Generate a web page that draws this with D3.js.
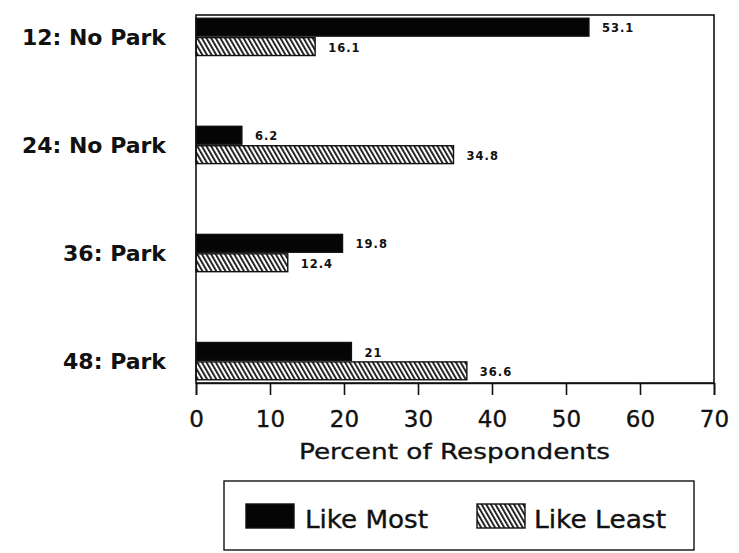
<!DOCTYPE html>
<html>
<head>
<meta charset="utf-8">
<script src="https://cdn.jsdelivr.net/npm/d3@7"></script>
<style>
  html, body { margin: 0; padding: 0; background: #fff; }
  svg { display: block; font-family: "DejaVu Sans", "Liberation Sans", Arial, sans-serif; }
</style>
</head>
<body>
<svg id="chart" width="739" height="553"></svg>
<script>
// Survey responses by site group
const categories = ["12: No Park", "24: No Park", "36: Park", "48: Park"];
const series = ["Like Most", "Like Least"];
const likeMost = [53.1, 6.2, 19.8, 21];
const likeLeast = [16.1, 34.8, 12.4, 36.6];
const valueLabels = [["53.1", "16.1"], ["6.2", "34.8"], ["19.8", "12.4"], ["21", "36.6"]];
const xTicks = [0, 10, 20, 30, 40, 50, 60, 70];

const svg = d3.select("#chart");
const plot = { left: 196, right: 714, top: 15, bottom: 383 };
const ink = "#111";

const x = d3.scaleLinear().domain([0, 70]).range([plot.left, plot.right]);
const y = d3.scaleBand().domain(categories)
  .range([plot.top, plot.bottom]).paddingInner(0.655).paddingOuter(0.03);
const ySub = d3.scaleBand().domain(series).range([0, y.bandwidth()]).paddingInner(0.08);

// Diagonal hatch for the "Like Least" series
const defs = svg.append("defs");
const pat = defs.append("pattern")
  .attr("id", "hatch").attr("patternUnits", "userSpaceOnUse")
  .attr("width", 4).attr("height", 4)
  .attr("patternTransform", "rotate(-30)");
pat.append("rect").attr("width", 4).attr("height", 4).attr("fill", "#fff");
pat.append("rect").attr("x", 0).attr("y", 0).attr("width", 1.8).attr("height", 4).attr("fill", ink);

const fills = { "Like Most": "#050505", "Like Least": "url(#hatch)" };

const rows = categories.map((c, i) => ({
  cat: c,
  values: [
    { s: "Like Most", v: likeMost[i], label: valueLabels[i][0] },
    { s: "Like Least", v: likeLeast[i], label: valueLabels[i][1] }
  ]
}));

// Bars
const groups = svg.append("g").selectAll("g.row").data(rows).join("g")
  .attr("class", "row")
  .attr("transform", d => `translate(0,${y(d.cat)})`);

groups.selectAll("rect").data(d => d.values).join("rect")
  .attr("x", x(0))
  .attr("y", d => ySub(d.s))
  .attr("width", d => x(d.v) - x(0))
  .attr("height", ySub.bandwidth())
  .attr("fill", d => fills[d.s])
  .attr("stroke", ink)
  .attr("stroke-width", 1.4);

groups.selectAll("text").data(d => d.values).join("text")
  .attr("x", d => x(d.v) + 13)
  .attr("y", d => ySub(d.s) + ySub.bandwidth() / 2 + 1)
  .attr("dy", "0.36em")
  .attr("font-size", 11.5)
  .attr("font-weight", "bold")
  .attr("letter-spacing", 1)
  .attr("fill", ink)
  .text(d => d.label);

// Category labels
svg.append("g").selectAll("text").data(categories).join("text")
  .attr("x", 166)
  .attr("y", d => y(d) + y.bandwidth() / 2)
  .attr("dy", "0.36em")
  .attr("text-anchor", "end")
  .attr("font-size", 22)
  .attr("font-weight", "bold")
  .attr("fill", ink)
  .text(d => d);

// Plot frame
svg.append("rect")
  .attr("x", plot.left).attr("y", plot.top)
  .attr("width", plot.right - plot.left).attr("height", plot.bottom - plot.top)
  .attr("fill", "none").attr("stroke", ink).attr("stroke-width", 1.6);

// X axis
const xAxis = d3.axisBottom(x).tickValues(xTicks).tickSize(12).tickPadding(16).tickFormat(d3.format("d"));
const ax = svg.append("g").attr("transform", `translate(0,${plot.bottom})`).call(xAxis);
ax.select(".domain").attr("stroke", ink).attr("stroke-width", 1.6);
ax.selectAll(".tick line").attr("stroke", ink).attr("stroke-width", 1.6);
ax.selectAll(".tick text")
  .attr("font-size", 23)
  .attr("font-family", "'DejaVu Sans', sans-serif")
  .attr("fill", ink)
  .attr("stroke", ink).attr("stroke-width", 0.35);

svg.append("text")
  .attr("x", 299)
  .attr("y", 459)
  .attr("font-size", 22)
  .attr("fill", ink)
  .attr("stroke", ink).attr("stroke-width", 0.35)
  .attr("textLength", 311)
  .attr("lengthAdjust", "spacingAndGlyphs")
  .text("Percent of Respondents");

// Legend
const legend = svg.append("g");
legend.append("rect")
  .attr("x", 224).attr("y", 481).attr("width", 470).attr("height", 69)
  .attr("fill", "#fff").attr("stroke", ink).attr("stroke-width", 1.4);

const legendItems = [
  { s: series[0], sx: 246, tx: 305, tw: 123 },
  { s: series[1], sx: 477, tx: 534, tw: 132 }
];
legend.selectAll("rect.sw").data(legendItems).join("rect")
  .attr("class", "sw")
  .attr("x", d => d.sx).attr("y", 504).attr("width", 48).attr("height", 24)
  .attr("fill", d => fills[d.s]).attr("stroke", ink).attr("stroke-width", 1.4);
legend.selectAll("text").data(legendItems).join("text")
  .attr("x", d => d.tx).attr("y", 528)
  .attr("font-size", 24)
  .attr("fill", ink)
  .attr("stroke", ink).attr("stroke-width", 0.35)
  .attr("textLength", d => d.tw)
  .attr("lengthAdjust", "spacingAndGlyphs")
  .text(d => d.s);
</script>
</body>
</html>
